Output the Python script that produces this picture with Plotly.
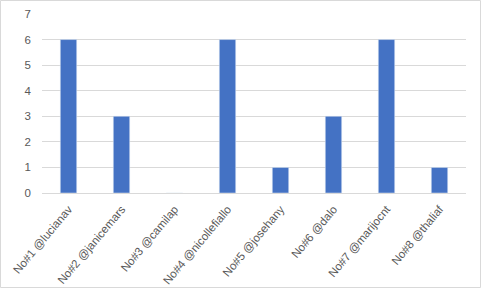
import plotly.graph_objects as go

categories = ["No#1 @lucianav", "No#2 @janicemars", "No#3 @camilap", "No#4 @nicollefiallo",
              "No#5 @josehany", "No#6 @dalo", "No#7 @marijocnt", "No#8 @thaliaf"]
values = [6, 3, 0, 6, 1, 3, 6, 1]

W, H = 481, 288
L, R, T, B = 42, 15, 14, 95
pw, ph = W - L - R, H - T - B

fig = go.Figure(go.Bar(x=categories, y=values, marker_color="#4472c4", width=0.31))
fig.update_layout(
    width=W, height=H,
    margin=dict(l=L, r=R, t=T, b=B),
    paper_bgcolor="white", plot_bgcolor="white",
    font=dict(family="Liberation Sans, Arial", size=11, color="#595959"),
    showlegend=False,
    xaxis=dict(tickangle=-50, showgrid=False, showline=True, linecolor="#d9d9d9",
               linewidth=1, ticks="", automargin=False, ticklabelstandoff=4,
               tickfont=dict(size=11.5, color="#595959")),
    yaxis=dict(range=[0, 7], dtick=1, showgrid=True, gridcolor="#d9d9d9", gridwidth=1,
               zeroline=False, showline=False, ticks="", ticklabelstandoff=10,
               automargin=False, tickfont=dict(size=11.5, color="#595959")),
    shapes=[dict(type="rect", xref="paper", yref="paper",
                 x0=(-L + 0.5) / pw, x1=(W - L - 0.5) / pw,
                 y0=(-B + 0.5) / ph, y1=(H - B - 0.5) / ph,
                 line=dict(color="#d9d9d9", width=1), fillcolor="rgba(0,0,0,0)", layer="below")],
)
fig.write_html("out.html")
